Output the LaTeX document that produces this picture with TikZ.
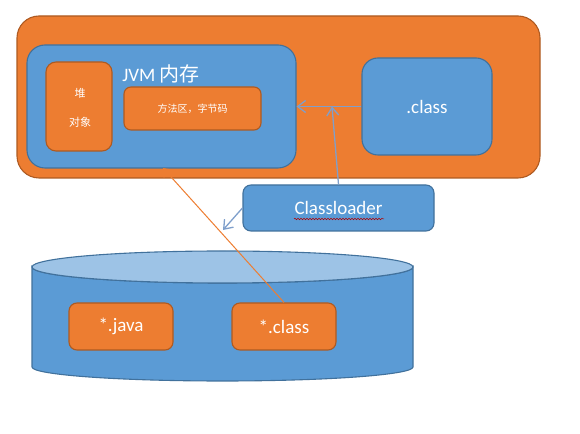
\documentclass[tikz,border=0pt]{standalone}
\usepackage{fontspec}
\setmainfont{Carlito}
\newfontfamily\cjk{Noto Sans CJK SC}
\usetikzlibrary{arrows.meta,decorations.pathmorphing}
\definecolor{org}{HTML}{ED7D31}
\definecolor{orgb}{HTML}{AE5A21}
\definecolor{blu}{HTML}{5B9BD5}
\definecolor{blub}{HTML}{41719C}
\definecolor{lblu}{HTML}{9DC3E6}
\definecolor{arr}{HTML}{7F9FCB}
\tikzset{
  obox/.style={draw=orgb, fill=org, line width=1.1pt, rounded corners=#1, inner sep=0pt, text=white},
  obox/.default=8pt,
  bbox/.style={draw=blub, fill=blu, line width=1.1pt, rounded corners=#1, inner sep=0pt, text=white},
  bbox/.default=8pt,
  conn/.style={draw=arr, line width=1.3pt, -{Straight Barb[length=8pt,width=12pt]}},
  oconn/.style={draw=org, line width=1pt, -{Straight Barb[length=7pt,width=11pt]}},
  big/.style={font=\fontsize{19}{21}\selectfont},
}
\begin{document}
\begin{tikzpicture}[x=1pt,y=1pt]
\useasboundingbox (0,0) rectangle (580,433);
% outer frame
\node[obox=22pt, minimum width=523pt, minimum height=162pt] (outer) at (278.5,336) {};
% JVM memory
\node[bbox=18pt, minimum width=269pt, minimum height=123pt] (jvm) at (161.5,326.5) {};
\node[text=white, inner sep=0pt, font=\fontsize{19}{21}\selectfont] (jvmt) at (161,359) {JVM {\cjk\fontsize{20}{22}\selectfont 内存}};
\node[obox=10pt, minimum width=66pt, minimum height=89pt] (heap) at (79,326.5) {};
\node[text=white, font=\cjk\fontsize{11}{13}\selectfont, inner sep=0pt] (heapt) at (80,340) {堆};
\node[text=white, font=\cjk\fontsize{11}{13}\selectfont, inner sep=0pt] (objt) at (80,311) {对象};
\node[obox=7pt, minimum width=137pt, minimum height=43pt, font=\cjk\fontsize{10}{12}\selectfont] (method) at (192.5,324.5) {方法区，字节码};
% .class box
\node[bbox=16pt, minimum width=130pt, minimum height=97pt, big] (cls) at (427,326.5) {.class};
% Classloader
\node[bbox=8pt, minimum width=191pt, minimum height=46pt, big] (cl) at (338.5,225) {Classloader};
\draw[draw=red!70!black, line width=0.5pt, decorate, decoration={snake, amplitude=0.8pt, segment length=3pt}] (294,214) -- (384,214);
% cylinder (disk)
\coordinate (cyl) at (222.5,166);
\fill[blu, draw=blub, line width=1.1pt] (32,166) -- (32,66) arc[start angle=180, end angle=360, x radius=190.5pt, y radius=14pt] -- (413,166) arc[start angle=0, end angle=-180, x radius=190.5pt, y radius=16pt] -- cycle;
\draw[fill=lblu, draw=blub, line width=1.1pt] (cyl) ellipse[x radius=190.5pt, y radius=16pt];
\node[obox=8pt, minimum width=104pt, minimum height=47pt, big] (java) at (121,106.5) {*.java};
\node[obox=8pt, minimum width=104pt, minimum height=47pt, big] (sclass) at (284,106.5) {*.class};
% connectors
\coordinate (join) at (332,326.5);
\coordinate (dl) at (223,203);
\coordinate (up) at (163,265);
\draw[conn] (cls.west) -- (jvm.east);
\draw[conn] (cl.north) -- (join);
\draw[conn] (cl.west) -- (dl);
\draw[oconn] (sclass.north) -- (up);
\end{tikzpicture}
\end{document}
